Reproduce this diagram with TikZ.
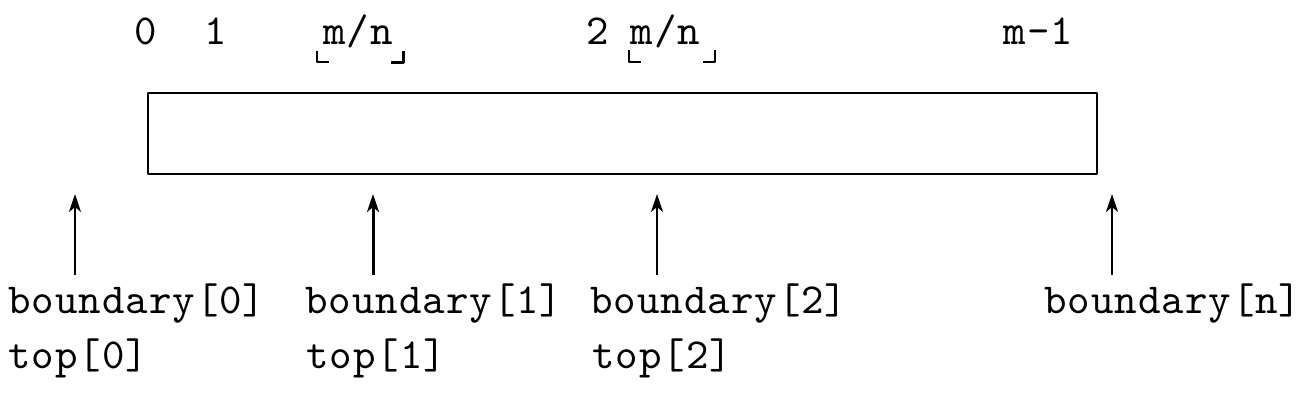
\documentclass[tikz,border=0pt]{standalone}
\usepackage{fontspec}
\setmonofont[LetterSpace=2.3]{lmmono10-regular.otf}
\usetikzlibrary{arrows.meta}
\begin{document}
\begin{tikzpicture}[x=0.5pt, y=-0.5pt, line join=round,
    lbl/.style={font=\ttfamily\fontsize{21.4}{24}\selectfont, inner sep=0pt, anchor=base west},
    ptr/.style={-{Stealth[length=9pt, width=6pt, inset=2.5pt]}, line width=1pt}]
  \useasboundingbox (0,0) rectangle (1304,414);
  % the array
  \node[draw, line width=0.75pt, inner sep=0pt, minimum width=474.5pt, minimum height=40.5pt] (arr) at (622.5,133.5) {};
  % indices above
  \node[lbl] (i0) at (134.5,44) {0};
  \node[lbl] (i1) at (204.5,44) {1};
  \node[lbl] (mn1) at (323,44) {m/n};
  \node[lbl] (i2) at (586,44) {2};
  \node[lbl] (mn2) at (630.5,44) {m/n};
  \node[lbl] (im) at (1003.5,44) {m-1};
  \draw[line width=1pt] (317,51) |- (329,62);
  \draw[line width=1.5pt] (391,62) -| (403,51);
  \draw[line width=1pt] (629,50) |- (641,62);
  \draw[line width=1pt] (703,62) -| (715,50);
  % pointers
  \foreach \x/\k in {75/0, 373/1, 657/2, 1112/n}{
    \coordinate (s\k) at (\x,275);
    \coordinate (e\k) at (\x,194);
  }
  \draw[ptr] (s0) -- (e0);
  \draw[ptr, line width=1.5pt] (s1) -- (e1);
  \draw[ptr] (s2) -- (e2);
  \draw[ptr] (sn) -- (en);
  % labels below
  \node[lbl] (b0) at (8,313) {boundary[0]};
  \node[lbl] (b1) at (305,313) {boundary[1]};
  \node[lbl] (b2) at (590,313) {boundary[2]};
  \node[lbl] (bn) at (1044,313) {boundary[n]};
  \node[lbl] (t0) at (8,368) {top[0]};
  \node[lbl] (t1) at (306,368) {top[1]};
  \node[lbl] (t2) at (592,368) {top[2]};
\end{tikzpicture}
\end{document}
